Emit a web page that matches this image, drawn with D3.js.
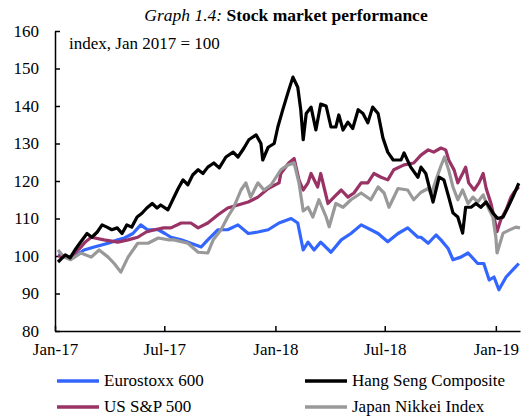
<!DOCTYPE html>
<html>
<head>
<meta charset="utf-8">
<script src="https://cdn.jsdelivr.net/npm/d3@7"></script>
<style>
    body { margin: 0; background: #fff; }
    svg text { font-family: "Liberation Serif", "Times New Roman", serif; fill: #000; }
</style>
</head>
<body>
<svg id="chart" width="528" height="418"></svg>
<script>
// values, index Jan 2017 = 100
const eurostoxx = [
    ['2017-01-06', 100.3], ['2017-01-20', 99.7], ['2017-02-01', 99.7], ['2017-02-18', 101.6],
    ['2017-03-07', 102.4], ['2017-03-30', 103.4], ['2017-04-15', 104.3], ['2017-04-26', 104.8],
    ['2017-05-10', 106], ['2017-05-23', 108.3], ['2017-06-03', 107], ['2017-06-21', 107],
    ['2017-07-02', 106], ['2017-07-12', 105], ['2017-07-29', 104.3], ['2017-08-14', 103.4],
    ['2017-08-31', 102.4], ['2017-09-11', 104.3], ['2017-09-28', 107], ['2017-10-14', 107],
    ['2017-10-31', 108.3], ['2017-11-17', 106], ['2017-12-03', 106.4], ['2017-12-20', 107],
    ['2018-01-07', 108.8], ['2018-01-27', 110], ['2018-02-07', 108.8], ['2018-02-16', 101.6],
    ['2018-02-24', 103.7], ['2018-03-06', 101.6], ['2018-03-17', 103.7], ['2018-04-03', 101],
    ['2018-04-20', 104.3], ['2018-05-06', 106], ['2018-05-23', 108.3], ['2018-06-08', 107],
    ['2018-06-20', 106], ['2018-07-06', 103.8], ['2018-07-23', 106], ['2018-08-08', 107.5],
    ['2018-08-25', 105], ['2018-08-30', 105], ['2018-09-11', 103.4], ['2018-09-24', 105.6],
    ['2018-10-02', 104.3], ['2018-10-14', 102], ['2018-10-22', 99], ['2018-11-04', 99.7],
    ['2018-11-16', 100.8], ['2018-12-02', 98], ['2018-12-12', 98], ['2018-12-21', 93.6],
    ['2018-12-29', 94.4], ['2019-01-06', 91], ['2019-01-18', 94.4], ['2019-01-29', 96.3],
    ['2019-02-08', 98]
];

const hangSeng = [
    ['2017-01-06', 98.4], ['2017-01-18', 100.3], ['2017-01-26', 99.5], ['2017-02-03', 101.6],
    ['2017-02-11', 103.4], ['2017-02-23', 106], ['2017-03-03', 105], ['2017-03-12', 106.4],
    ['2017-03-20', 108.3], ['2017-03-28', 107.7], ['2017-04-05', 107], ['2017-04-14', 107.5],
    ['2017-04-22', 106], ['2017-04-30', 108.3], ['2017-05-08', 107.7], ['2017-05-17', 110.4],
    ['2017-05-25', 111.4], ['2017-06-02', 112.8], ['2017-06-11', 114], ['2017-06-19', 112.8],
    ['2017-06-25', 113.6], ['2017-07-07', 112.3], ['2017-07-15', 115], ['2017-07-24', 118],
    ['2017-08-01', 120.3], ['2017-08-09', 119], ['2017-08-17', 121.6], ['2017-08-26', 123],
    ['2017-09-03', 122], ['2017-09-11', 123.7], ['2017-09-21', 124.8], ['2017-09-30', 123.5],
    ['2017-10-11', 126.4], ['2017-10-23', 127.7], ['2017-10-31', 126.4], ['2017-11-10', 128.8],
    ['2017-11-18', 131], ['2017-11-30', 132.3], ['2017-12-08', 130], ['2017-12-11', 125.6],
    ['2017-12-20', 129], ['2017-12-30', 130], ['2018-01-05', 134.4], ['2018-01-13', 138.9],
    ['2018-01-22', 143.7], ['2018-01-30', 147.7], ['2018-02-07', 145], ['2018-02-12', 138.9],
    ['2018-02-16', 131], ['2018-02-21', 138], ['2018-03-01', 139.7], ['2018-03-09', 133.6],
    ['2018-03-17', 140.5], ['2018-03-26', 140], ['2018-04-03', 134.4], ['2018-04-11', 134.4],
    ['2018-04-16', 137.6], ['2018-04-23', 133.6], ['2018-05-01', 135.7], ['2018-05-09', 134],
    ['2018-05-18', 139], ['2018-05-26', 138], ['2018-06-03', 135.5], ['2018-06-11', 139.7],
    ['2018-06-20', 138], ['2018-06-28', 131.5], ['2018-07-06', 127.7], ['2018-07-15', 125.6],
    ['2018-07-28', 125.6], ['2018-08-02', 127.5], ['2018-08-13', 123.7], ['2018-08-25', 121],
    ['2018-08-30', 123.7], ['2018-09-07', 122], ['2018-09-19', 114.4], ['2018-09-29', 121],
    ['2018-10-07', 120.3], ['2018-10-15', 115.7], ['2018-10-22', 111.5], ['2018-10-30', 110.4],
    ['2018-11-07', 106.1], ['2018-11-12', 113], ['2018-11-21', 113], ['2018-11-29', 114],
    ['2018-12-07', 113], ['2018-12-16', 114.4], ['2018-12-27', 111.5], ['2019-01-04', 110],
    ['2019-01-13', 110.4], ['2019-01-21', 113], ['2019-01-29', 115.7], ['2019-02-08', 119.4]
];

const sp500 = [
    ['2017-01-06', 100], ['2017-01-27', 99.7], ['2017-02-13', 102.4], ['2017-02-20', 103.7],
    ['2017-03-02', 105], ['2017-03-23', 104.3], ['2017-04-15', 103.7], ['2017-05-02', 104.3],
    ['2017-05-18', 105], ['2017-06-01', 106.4], ['2017-06-15', 107], ['2017-06-30', 107.5],
    ['2017-07-12', 107.5], ['2017-07-29', 108.8], ['2017-08-14', 108.8], ['2017-08-26', 107.5],
    ['2017-09-11', 108.8], ['2017-09-28', 111], ['2017-10-14', 112.8], ['2017-10-31', 113.6],
    ['2017-11-17', 114.4], ['2017-12-03', 115.7], ['2017-12-20', 118], ['2018-01-07', 119.5],
    ['2018-01-10', 122], ['2018-01-23', 124.8], ['2018-02-01', 126], ['2018-02-09', 120.3],
    ['2018-02-16', 117.6], ['2018-02-24', 119.5], ['2018-03-01', 122], ['2018-03-12', 118.4],
    ['2018-03-17', 122], ['2018-03-29', 114], ['2018-04-08', 115.7], ['2018-04-20', 117.6],
    ['2018-05-01', 115.7], ['2018-05-11', 116.8], ['2018-05-23', 119.5], ['2018-06-03', 119.5],
    ['2018-06-13', 122], ['2018-06-25', 121], ['2018-07-06', 120.3], ['2018-07-16', 123],
    ['2018-08-02', 124.3], ['2018-08-18', 124.8], ['2018-08-30', 126.9], ['2018-09-11', 128.3],
    ['2018-09-20', 127.7], ['2018-10-02', 128.8], ['2018-10-10', 128.3], ['2018-10-15', 125.6],
    ['2018-10-24', 122.9], ['2018-10-30', 119.5], ['2018-11-07', 122], ['2018-11-12', 123.7],
    ['2018-11-17', 119.5], ['2018-11-26', 117.6], ['2018-12-04', 119.5], ['2018-12-11', 122],
    ['2018-12-16', 118], ['2018-12-24', 114], ['2018-12-29', 110.4], ['2019-01-03', 106.5],
    ['2019-01-09', 109.6], ['2019-01-18', 112.3], ['2019-01-26', 115.7], ['2019-01-31', 117],
    ['2019-02-08', 118.4]
];

const nikkei = [
    ['2017-01-06', 101.6], ['2017-01-16', 99.7], ['2017-01-27', 99], ['2017-02-13', 100.8],
    ['2017-03-02', 99.7], ['2017-03-15', 101.6], ['2017-03-30', 99.7], ['2017-04-09', 98],
    ['2017-04-20', 95.7], ['2017-05-02', 99.7], ['2017-05-18', 103.4], ['2017-06-04', 103.4],
    ['2017-06-21', 104.8], ['2017-07-09', 104.3], ['2017-07-17', 104.3], ['2017-08-09', 103.4],
    ['2017-08-26', 101], ['2017-09-11', 100.8], ['2017-09-20', 104.3], ['2017-10-03', 107],
    ['2017-10-14', 110.4], ['2017-10-24', 113], ['2017-11-05', 117.6], ['2017-11-13', 119.5],
    ['2017-11-21', 115.7], ['2017-12-03', 119.5], ['2017-12-13', 117.6], ['2017-12-25', 119],
    ['2018-01-10', 123], ['2018-01-22', 124.3], ['2018-02-01', 124.8], ['2018-02-09', 119.5],
    ['2018-02-16', 112], ['2018-02-24', 113], ['2018-03-04', 110.4], ['2018-03-14', 115],
    ['2018-03-26', 110.4], ['2018-03-31', 107.8], ['2018-04-11', 114], ['2018-04-23', 113],
    ['2018-05-06', 115], ['2018-05-23', 116.8], ['2018-06-08', 115], ['2018-06-20', 118.4],
    ['2018-06-30', 116.8], ['2018-07-08', 113], ['2018-07-23', 118], ['2018-08-08', 117.6],
    ['2018-08-18', 115], ['2018-08-30', 117], ['2018-09-11', 118], ['2018-09-16', 116.5],
    ['2018-09-24', 120.3], ['2018-10-02', 124], ['2018-10-08', 126.4], ['2018-10-15', 122.9],
    ['2018-10-22', 118.4], ['2018-10-30', 115], ['2018-11-07', 117.6], ['2018-11-16', 114],
    ['2018-11-24', 115.7], ['2018-12-02', 114.4], ['2018-12-11', 116.3], ['2018-12-19', 113],
    ['2018-12-27', 110.4], ['2019-01-01', 105], ['2019-01-03', 100.8], ['2019-01-13', 106.1],
    ['2019-01-23', 106.9], ['2019-02-03', 107.7], ['2019-02-10', 107.5]
];

const yTicks = [80, 90, 100, 110, 120, 130, 140, 150, 160];
const xTicks = ['2017-01-01', '2017-07-01', '2018-01-01', '2018-07-01', '2019-01-01'];

const parse = d3.timeParse('%Y-%m-%d');

const series = [
    { name: 'Eurostoxx 600', color: '#3366ff', data: eurostoxx },
    { name: 'Hang Seng Composite', color: '#000000', data: hangSeng },
    { name: 'US S&P 500', color: '#993366', data: sp500 },
    { name: 'Japan Nikkei Index', color: '#999999', data: nikkei }
];

const svg = d3.select('#chart');

const x = d3.scaleTime()
    .domain([parse('2017-01-01'), parse('2019-02-10')])
    .range([55, 520]);

const y = d3.scaleLinear()
    .domain([80, 160])
    .range([331, 31]);

// title
const title = svg.append('text')
    .attr('x', 286)
    .attr('y', 21)
    .attr('text-anchor', 'middle')
    .style('font-size', '17.5px');
title.append('tspan').style('font-style', 'italic').text('Graph 1.4: ');
title.append('tspan').style('font-weight', 'bold').text('Stock market performance');

svg.append('text')
    .attr('x', 69)
    .attr('y', 49)
    .style('font-size', '17px')
    .text('index, Jan 2017 = 100');

// axes
const yAxis = svg.append('g')
    .attr('transform', 'translate(55,0)')
    .call(d3.axisLeft(y).tickValues(yTicks).tickSizeInner(-5).tickSizeOuter(0).tickPadding(16).tickFormat(d3.format('d')));

const xAxis = svg.append('g')
    .attr('transform', 'translate(0,331)')
    .call(d3.axisBottom(x).tickValues(xTicks.map(parse)).tickSizeInner(-5).tickSizeOuter(0).tickPadding(10).tickFormat(d3.timeFormat('%b-%y')));

[yAxis, xAxis].forEach(g => {
    g.selectAll('path, line').attr('stroke', '#000').attr('stroke-width', 1.5);
    g.selectAll('text').style('font-size', '17px').attr('fill', '#000').style('font-family', '"Liberation Serif", serif');
});
xAxis.selectAll('text').attr('dy', '0.85em');

// lines
const line = d3.line()
    .x(d => x(parse(d[0])))
    .y(d => y(d[1]));

const drawOrder = [0, 2, 3, 1];
svg.append('g')
    .selectAll('path')
    .data(drawOrder.map(i => series[i]))
    .enter().append('path')
    .attr('d', d => line(d.data))
    .attr('fill', 'none')
    .attr('stroke', d => d.color)
    .attr('stroke-width', 3.2)
    .attr('stroke-linejoin', 'round');

// legend
const legendPos = [[57, 381], [305, 381], [57, 407], [305, 407]];
const legend = svg.append('g')
    .selectAll('g')
    .data(series)
    .enter().append('g')
    .attr('transform', (d, i) => `translate(${legendPos[i][0]},${legendPos[i][1]})`);

legend.append('line')
    .attr('x1', 0).attr('x2', 42)
    .attr('y1', 0).attr('y2', 0)
    .attr('stroke', d => d.color)
    .attr('stroke-width', 3.5);

legend.append('text')
    .attr('x', 47)
    .attr('y', 5)
    .style('font-size', '17px')
    .text(d => d.name);
</script>
</body>
</html>
